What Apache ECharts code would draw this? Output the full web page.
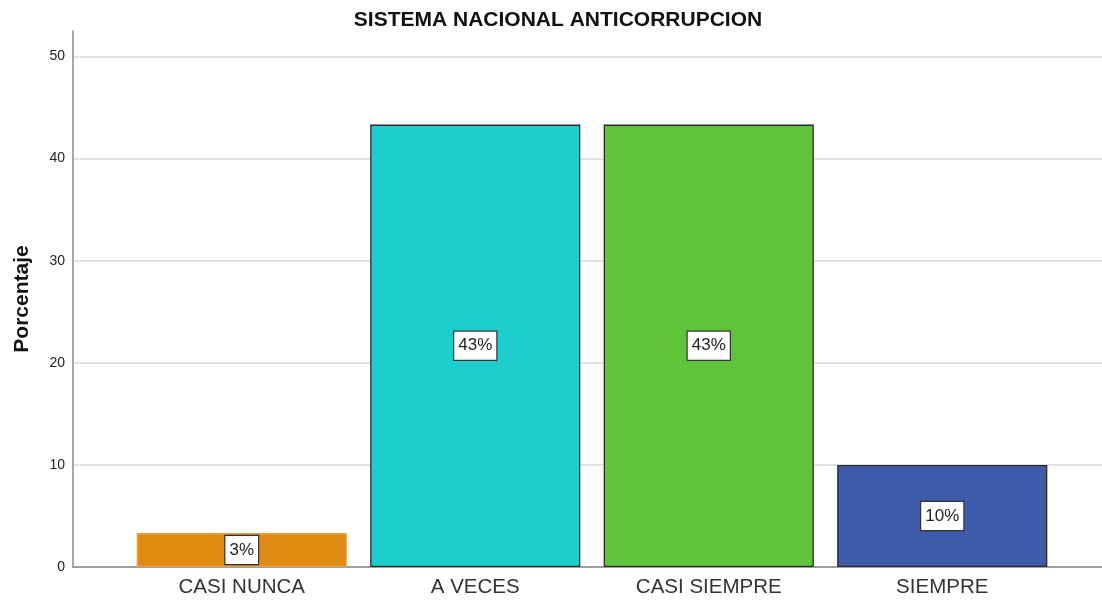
<!DOCTYPE html>
<html>
<head>
<meta charset="utf-8">
<script src="https://cdn.jsdelivr.net/npm/echarts@6/dist/echarts.min.js"></script>
<style>
  html, body { margin: 0; padding: 0; background: #fff; }
  #chart { width: 1102px; height: 600px; }
</style>
</head>
<body>
<div id="chart"></div>
<script>
// data
const categories = ['CASI NUNCA', 'A VECES', 'CASI SIEMPRE', 'SIEMPRE'];
const percents = [3.33, 43.33, 43.33, 10.0];
const barColors = ['#E08A12', '#1DCDCD', '#5EC43A', '#3D5BA9'];
const barBorders = ['#E9A24A', '#2b2b2b', '#2b2b2b', '#2b2b2b'];
const yTicks = [0, 10, 20, 30, 40, 50];

const chart = echarts.init(document.getElementById('chart'));
const font = 'Liberation Sans, Arial, sans-serif';
const yMax = 52.5;

const option = {
  animation: false,
  title: {
    text: 'SISTEMA NACIONAL ANTICORRUPCION',
    left: 553, top: 5, textAlign: 'center',
    textStyle: { fontFamily: font, fontSize: 21, fontWeight: 'bold', color: '#111' }
  },
  grid: [
    // frame grid: y axis + gridlines across the full width
    { left: 73, right: 0, top: 31, bottom: 33 },
    // bar grid: padded in on both sides
    { left: 125, right: 43, top: 31, bottom: 33 }
  ],
  xAxis: [
    {
      gridIndex: 0, type: 'value', min: 0, max: 1,
      axisLine: { show: true, onZero: false, lineStyle: { color: '#8a8a8a', width: 1.5 } },
      axisTick: { show: false }, axisLabel: { show: false }, splitLine: { show: false }
    },
    {
      gridIndex: 1, type: 'category', data: categories,
      axisLine: { show: false }, axisTick: { show: false },
      axisLabel: { fontFamily: font, fontSize: 20.5, color: '#333', margin: 10 }
    }
  ],
  yAxis: [
    {
      gridIndex: 0, type: 'value', min: 0, max: yMax, interval: 10,
      name: 'Porcentaje', nameLocation: 'middle', nameGap: 40, nameRotate: 90,
      nameTextStyle: { fontFamily: font, fontSize: 21, fontWeight: 'bold', color: '#111' },
      axisLine: { show: true, lineStyle: { color: '#8a8a8a', width: 1.5 } },
      axisTick: { show: false },
      axisLabel: {
        fontFamily: font, fontSize: 14, color: '#222', margin: 8,
        formatter: v => (yTicks.indexOf(v) >= 0 ? String(v) : '')
      },
      splitLine: {
        show: true,
        lineStyle: {
          color: ['#d6d6d6', '#d6d6d6', '#d6d6d6', '#d6d6d6', '#d6d6d6', '#d6d6d6', 'rgba(0,0,0,0)'],
          width: 1.5
        }
      }
    },
    {
      gridIndex: 1, type: 'value', min: 0, max: yMax, show: false,
      splitLine: { show: false }
    }
  ],
  series: [{
    type: 'bar',
    xAxisIndex: 1, yAxisIndex: 1,
    barCategoryGap: '10%',
    data: percents.map((v, i) => ({
      value: v,
      itemStyle: { color: barColors[i], borderColor: barBorders[i], borderWidth: 1.3 }
    })),
    label: {
      show: true, position: 'inside',
      formatter: p => Math.round(p.value) + '%',
      fontFamily: font, fontSize: 17, color: '#222',
      backgroundColor: '#fff', borderColor: '#333', borderWidth: 1.2,
      padding: [6, 4, 5, 4]
    }
  }]
};

chart.setOption(option);
</script>
</body>
</html>
